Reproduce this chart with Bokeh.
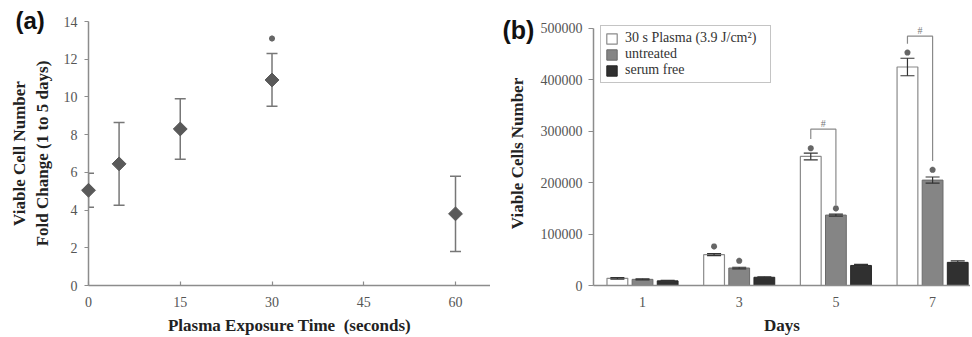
import math
from bokeh.plotting import figure
from bokeh.layouts import row
from bokeh.models import (ColumnDataSource, Whisker, TeeHead, Range1d,
                          FixedTicker, BasicTickFormatter)
from bokeh.transform import dodge
from bokeh.core.properties import value
from bokeh.embed import file_html
from bokeh.resources import INLINE

# ---------------- Panel (a) data ----------------
exposure_s = [0, 5, 15, 30, 60]
fold_change = [5.05, 6.45, 8.3, 10.9, 3.8]
fold_err = [0.9, 2.2, 1.6, 1.4, 2.0]
star_a_x = [30]
star_a_y = [13.1]
a_xticks = [0, 15, 30, 45, 60]
a_yticks = [0, 2, 4, 6, 8, 10, 12, 14]

# ---------------- Panel (b) data ----------------
days = ["1", "3", "5", "7"]
day_pos = [1, 2, 3, 4]
plasma = [14000, 60000, 251000, 425000]
plasma_err = [1500, 2000, 6500, 17000]
untreated = [12000, 34000, 137000, 205000]
untreated_err = [1000, 1500, 2000, 6000]
serum_free = [9000, 16000, 39000, 45000]
serum_free_err = [800, 1000, 2000, 3000]
# significance stars (day position, series offset, y)
star_b_day = [2, 2, 3, 3, 4, 4]
star_b_off = [-0.26, 0.0, -0.26, 0.0, -0.26, 0.0]
star_b_y = [76000, 48000, 267000, 150000, 453000, 225000]
# "#" brackets between plasma and untreated
br_day = [3, 4]
br_top = [304000, 485000]
br_left_bottom = [285000, 470000]
br_right_bottom = [155000, 242000]
b_yticks = [0, 100000, 200000, 300000, 400000, 500000]

SERIF = "Liberation Serif"
AXIS_COL = "#8c8c8c"
TICK_TXT = "#555555"
H = 337
TOP = 21
BOTTOM = 50


def style_axes(p):
    for ax in (p.xaxis[0], p.yaxis[0]):
        ax.axis_line_color = AXIS_COL
        ax.axis_line_width = 1.5
        ax.major_tick_line_color = AXIS_COL
        ax.major_tick_line_width = 1.2
        ax.minor_tick_line_color = None
        ax.major_label_text_font = SERIF
        ax.major_label_text_font_size = "14px"
        ax.major_label_text_color = TICK_TXT
        ax.axis_label_text_font = SERIF
        ax.axis_label_text_font_style = "bold"
        ax.axis_label_text_font_size = "17px"
        ax.axis_label_text_color = "#222222"
    p.xaxis.major_label_standoff = 11
    p.xaxis.axis_label_standoff = 6
    p.xgrid.visible = False
    p.ygrid.visible = False
    p.outline_line_color = None


def style_title(p, text, offset, standoff, size):
    p.title.text = text
    p.title.align = "left"
    p.title.offset = offset
    p.title.standoff = standoff
    p.title.text_font = "Liberation Sans"
    p.title.text_font_style = "bold"
    p.title.text_font_size = size
    p.title.text_color = "#111111"


# ================= Panel (a) =================
pa = figure(width=490, height=H, x_range=Range1d(0, 65.72),
            y_range=Range1d(0, 14), output_backend="svg",
            toolbar_location=None, min_border_left=88, min_border_right=0,
            min_border_top=TOP, min_border_bottom=BOTTOM)
style_axes(pa)
style_title(pa, "(a)", -73, -25, "24px")
pa.xaxis.ticker = FixedTicker(ticks=a_xticks)
pa.yaxis.ticker = FixedTicker(ticks=a_yticks)
pa.xaxis.major_tick_in = 4
pa.xaxis.major_tick_out = 0
pa.yaxis.major_tick_in = 0
pa.yaxis.major_tick_out = 4
pa.yaxis.major_label_standoff = 7
pa.xaxis.axis_label = "Plasma Exposure Time\u00a0\u00a0(seconds)"
pa.yaxis.axis_label = "Viable Cell Number\nFold Change (1 to 5 days)"
pa.yaxis.axis_label_standoff = 9

src_a = ColumnDataSource(dict(
    x=exposure_s, y=fold_change,
    up=[v + e for v, e in zip(fold_change, fold_err)],
    lo=[v - e for v, e in zip(fold_change, fold_err)]))
wa = Whisker(base="x", upper="up", lower="lo", source=src_a,
             line_color="#777777", line_width=1.5,
             upper_head=TeeHead(size=11, line_color="#777777", line_width=1.5),
             lower_head=TeeHead(size=11, line_color="#777777", line_width=1.5))
pa.add_layout(wa)
pa.scatter("x", "y", source=src_a, marker="square", size=9.8,
           angle=math.pi / 4, fill_color="#595959", line_color="#595959",
           line_width=1, level="overlay")
pa.scatter(star_a_x, star_a_y, marker="asterisk", size=6, line_width=2,
           line_color="#666666")

# ================= Panel (b) =================
pb = figure(width=480, height=H, x_range=Range1d(0.493, 4.392),
            y_range=Range1d(0, 500000 * 266 / 259), output_backend="svg",
            toolbar_location=None, min_border_left=103, min_border_right=0,
            min_border_top=TOP, min_border_bottom=BOTTOM)
style_axes(pb)
style_title(pb, "(b)", -91, -44, "25px")
pb.xaxis.ticker = FixedTicker(ticks=day_pos)
pb.xaxis.major_label_overrides = {p: d for p, d in zip(day_pos, days)}
pb.yaxis.ticker = FixedTicker(ticks=b_yticks)
pb.yaxis.formatter = BasicTickFormatter(use_scientific=False)
pb.yaxis.bounds = (0, 500000)
pb.xaxis.major_tick_in = 0
pb.xaxis.major_tick_out = 0
pb.yaxis.major_tick_in = 0
pb.yaxis.major_tick_out = 5
pb.yaxis.major_label_standoff = 6
pb.xaxis.axis_label = "Days"
pb.yaxis.axis_label = "Viable Cells Number"
pb.yaxis.axis_label_standoff = 11

src_b = ColumnDataSource(dict(
    x=day_pos, plasma=plasma, untreated=untreated, serum=serum_free,
    p_up=[v + e for v, e in zip(plasma, plasma_err)],
    p_lo=[v - e for v, e in zip(plasma, plasma_err)],
    u_up=[v + e for v, e in zip(untreated, untreated_err)],
    u_lo=[v - e for v, e in zip(untreated, untreated_err)],
    s_up=[v + e for v, e in zip(serum_free, serum_free_err)],
    s_lo=[v - e for v, e in zip(serum_free, serum_free_err)]))

BW = 0.215
OFF = 0.26
pb.vbar(x=dodge("x", -OFF), top="plasma", width=BW, source=src_b,
        fill_color="white", line_color="#8a8a8a", line_width=1.2,
        legend_label="30 s Plasma (3.9 J/cm\u00b2)")
pb.vbar(x=dodge("x", 0.0), top="untreated", width=BW, source=src_b,
        fill_color="#858585", line_color="#6a6a6a", line_width=1,
        legend_label="untreated")
pb.vbar(x=dodge("x", OFF), top="serum", width=BW, source=src_b,
        fill_color="#303030", line_color="#262626", line_width=1,
        legend_label="serum free")

for off, up, lo in [(-OFF, "p_up", "p_lo"), (0.0, "u_up", "u_lo"),
                    (OFF, "s_up", "s_lo")]:
    w = Whisker(base=dodge("x", off), upper=up, lower=lo, source=src_b,
                line_color="#333333", line_width=1.2, level="overlay",
                upper_head=TeeHead(size=14, line_color="#333333", line_width=1.2),
                lower_head=TeeHead(size=14, line_color="#333333", line_width=1.2))
    pb.add_layout(w)

star_b_x = [d + o for d, o in zip(star_b_day, star_b_off)]
pb.scatter(star_b_x, star_b_y, marker="asterisk", size=6, line_width=2,
           line_color="#666666")

# brackets
br_xs = []
br_ys = []
for d, t, lb, rb in zip(br_day, br_top, br_left_bottom, br_right_bottom):
    br_xs.append([d - OFF, d - OFF, d, d])
    br_ys.append([lb, t, t, rb])
pb.multi_line(br_xs, br_ys, line_color="#8a8a8a", line_width=1.2)
pb.text(x=[d - OFF / 2 for d in br_day], y=[t + 11000 for t in br_top],
        text=["#", "#"], text_font=value(SERIF), text_font_size="10px",
        text_color="#777777", text_align="center", text_baseline="middle")

lg = pb.legend[0]
lg.location = (7, 202)
lg.label_text_font = SERIF
lg.label_text_font_size = "14px"
lg.label_text_color = "#333333"
lg.label_width = 141
lg.glyph_width = 13
lg.glyph_height = 13
lg.label_height = 14
lg.spacing = 0
lg.padding = 4
lg.margin = 0
lg.label_standoff = 7
lg.border_line_color = "#8a8a8a"
lg.border_line_width = 1.2
lg.background_fill_alpha = 1

layout = row(pa, pb)
open("out.html", "w").write(file_html(layout, INLINE))
